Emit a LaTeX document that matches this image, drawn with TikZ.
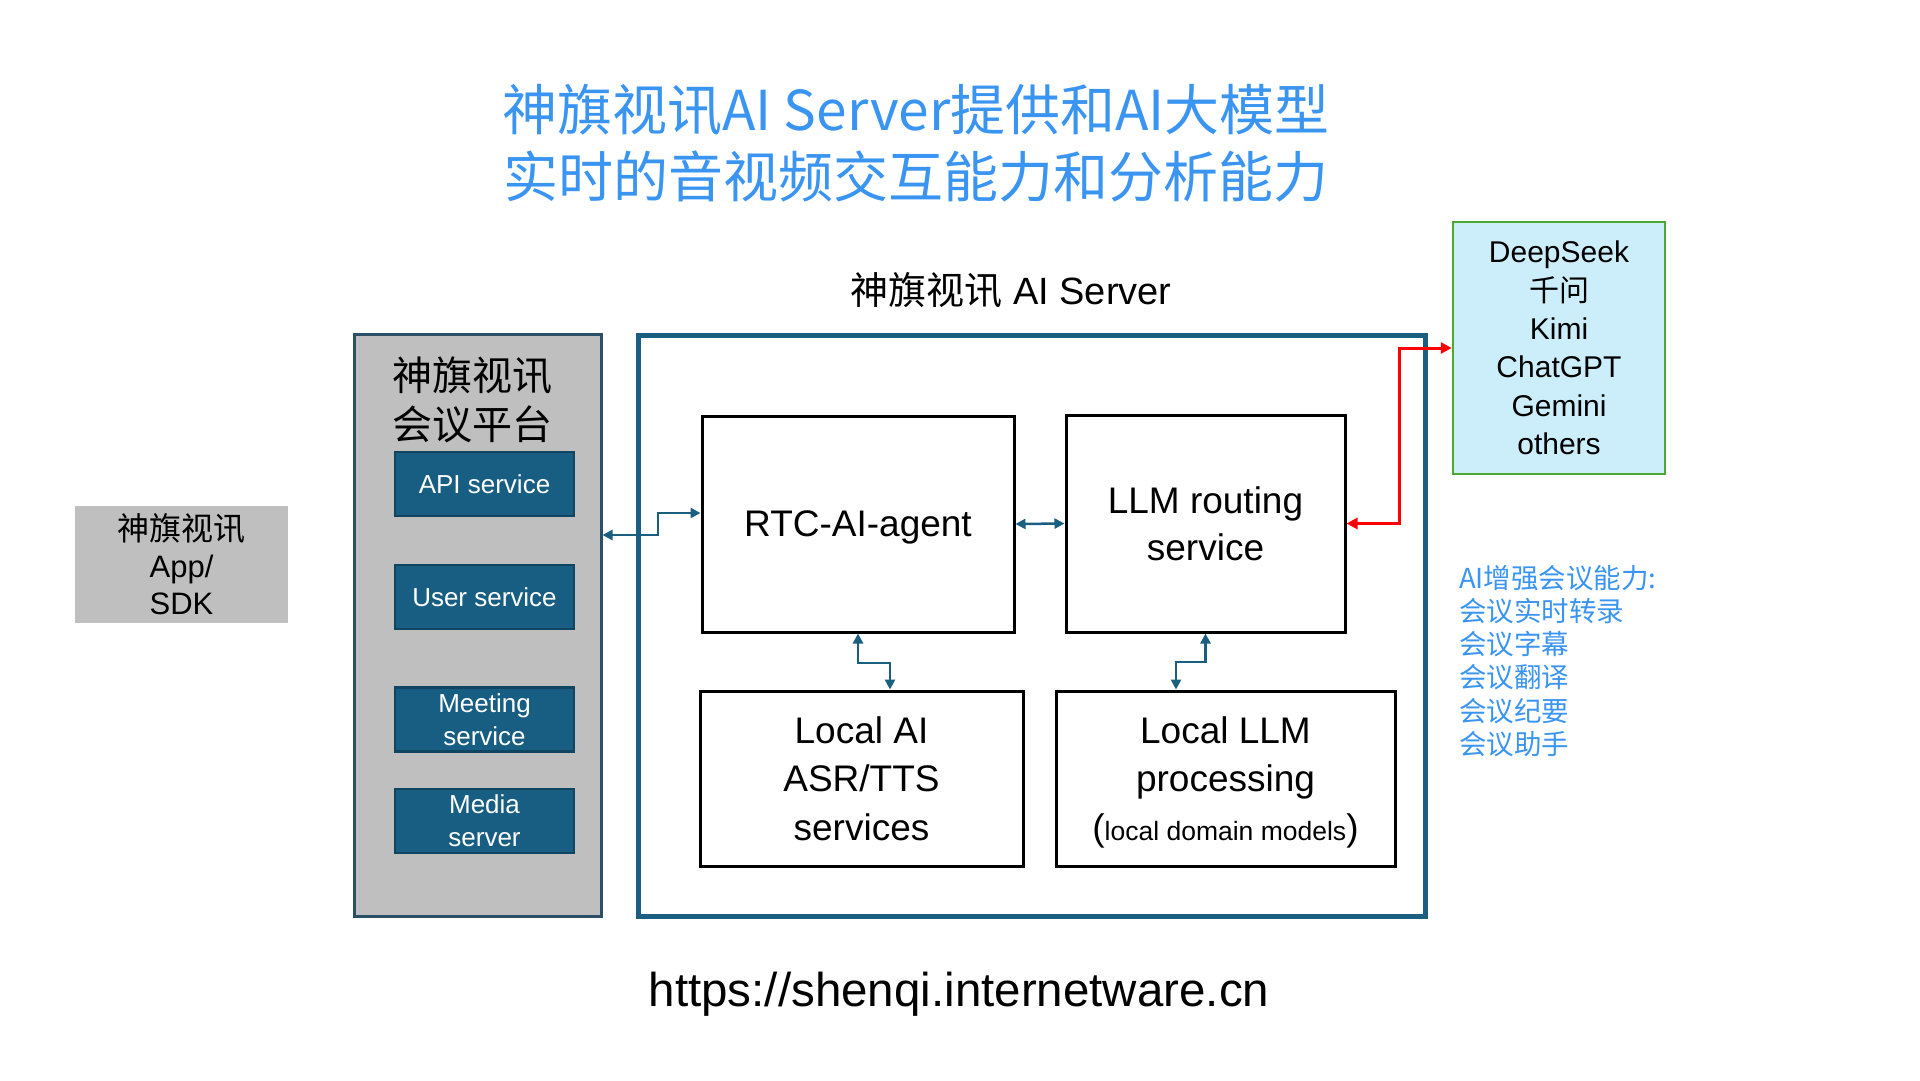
\documentclass[tikz,border=0pt]{standalone}
\usepackage{fontspec}
\setmainfont{Liberation Sans}
\newfontfamily\cjk{Noto Sans CJK SC}
\usetikzlibrary{arrows.meta}
\definecolor{dblue}{HTML}{1A5E80}
\definecolor{bfill}{HTML}{185E82}
\definecolor{bline}{HTML}{0F4560}
\definecolor{tblue}{HTML}{3A95F2}
\definecolor{gfill}{HTML}{BFBFBF}
\definecolor{pline}{HTML}{2B4F66}
\definecolor{cyanfill}{HTML}{CCEEFB}
\definecolor{gline}{HTML}{4EA72E}
\newcommand\fsz[2]{\fontsize{#1}{#2}\selectfont}
\begin{document}
\begin{tikzpicture}[x=1pt,y=-1pt,
  blk/.style={draw=black, line width=3pt, align=center, inner sep=0pt, font=\fsz{37}{48.5}},
  svc/.style={draw=bline, line width=2.5pt, fill=bfill, text=white, minimum width=179pt, minimum height=64pt, align=center, inner sep=0pt, font=\fsz{26}{33}},
  conn/.style={draw=dblue, line width=2.5pt, {Triangle[length=10pt,width=10pt]}-{Triangle[length=10pt,width=10pt]}},
  rconn/.style={draw=red, line width=3pt, {Triangle[length=11pt,width=11pt]}-{Triangle[length=11pt,width=11pt]}}
]
\fill[white] (0,0) rectangle (1920,1080);
\useasboundingbox (0,0) rectangle (1920,1080);

\node[font={\cjk\fsz{55}{67}}, text=tblue, align=center, inner sep=0pt] (title) at (916,143) {神旗视讯AI Server提供和AI大模型\\实时的音视频交互能力和分析能力};

\node[font=\fsz{38}{40}, inner sep=0pt] (srvlabel) at (1011,290) {{\cjk 神旗视讯} AI Server};

\node[draw=dblue, line width=5pt, minimum width=787pt, minimum height=581pt, inner sep=0pt] (frame) at (1031.5,625.5) {};

\node[draw=pline, line width=3pt, fill=gfill, minimum width=247pt, minimum height=582pt, inner sep=0pt] (plat) at (477.5,625) {};
\node[anchor=west, font={\cjk\fsz{40}{49}}, align=left, inner sep=0pt] (platlabel) at (392,400) {神旗视讯\\会议平台};

\node[svc] (api) at (484.5,484) {API service};
\node[svc] (user) at (484.5,597) {User service};
\node[svc] (meet) at (484.5,719.5) {Meeting\\service};
\node[svc] (media) at (484.5,821) {Media\\server};

\node[fill=gfill, minimum width=213pt, minimum height=117pt, align=center, inner sep=0pt, font=\fsz{31}{37}] (app) at (181.5,564.5) {{\cjk\fsz{32}{37}神旗视讯}\\App/\\SDK};

\node[blk, minimum width=312pt, minimum height=216pt, text depth=0pt] (agent) at (858,524) {RTC-AI-agent};
\node[blk, minimum width=279pt, minimum height=217pt, font=\fsz{37}{47}] (llm) at (1205.5,523.5) {LLM routing\\service};
\node[blk, minimum width=323pt, minimum height=175pt] (lai) at (861.5,778.5) {Local AI\\ASR/TTS\\services};
\node[blk, minimum width=339pt, minimum height=175pt] (lllm) at (1225.5,778.5) {Local LLM\\processing\\\smash{\fsz{37}{48.5}(}{\fsz{26.5}{48.5}local domain models}\smash{\fsz{37}{48.5})}};

\node[draw=gline, line width=2.5pt, fill=cyanfill, minimum width=212pt, minimum height=252pt, align=center, inner sep=0pt, font=\fsz{30}{38.4}] (ds) at (1559,348) {DeepSeek\\{\cjk 千问}\\Kimi\\ChatGPT\\Gemini\\others};

\node[anchor=west, align=left, text=tblue, inner sep=0pt, font={\cjk\fsz{27.5}{33.2}}] (feat) at (1459,661) {AI增强会议能力:\\会议实时转录\\会议字幕\\会议翻译\\会议纪要\\会议助手};

\node[font=\fsz{47.5}{50}, inner sep=0pt] (url) at (959,994) {https://shenqi.internetware.cn};

\draw[conn] (plat.east |- 0,535) -- (658,535) |- (agent.west |- 0,513);
\draw[conn] (agent.east) -- (llm.west);
\draw[conn] (agent.south) |- (890,663) -- (lai.north -| 890,663);
\draw[conn] (llm.south) |- (1176,662) -- (lllm.north -| 1176,662);
\draw[rconn] (llm.east) -- (1399,523.5) |- (ds.west);
\end{tikzpicture}
\end{document}
